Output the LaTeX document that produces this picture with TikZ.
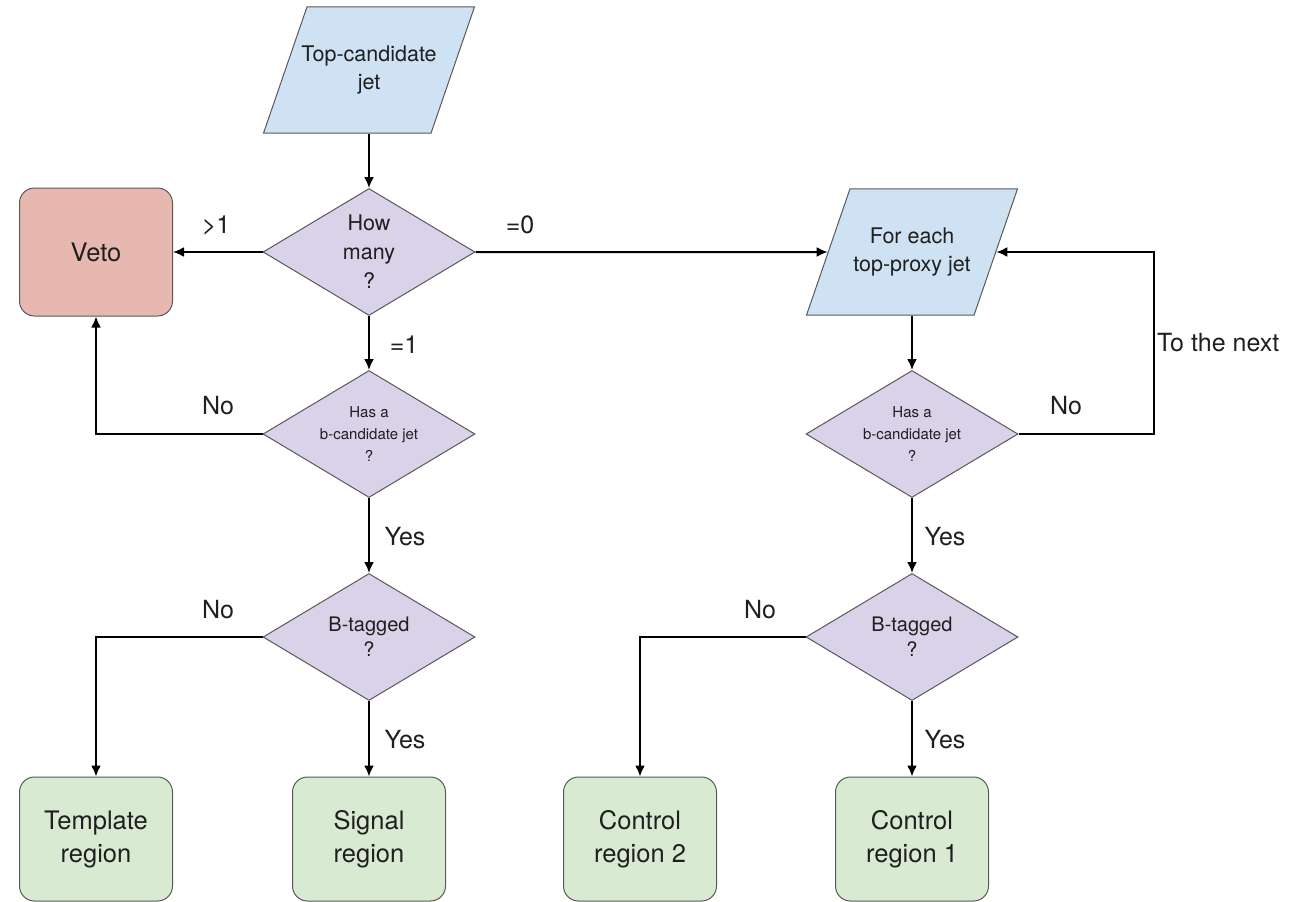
\documentclass[tikz,border=0pt]{standalone}
\usepackage{fontspec}
\setmainfont{TeX Gyre Heros}
\usetikzlibrary{shapes.geometric,arrows.meta}
\definecolor{jetblue}{HTML}{CFE2F3}
\definecolor{askpurple}{HTML}{D9D2E9}
\definecolor{vetored}{HTML}{E6B8AF}
\definecolor{regiongreen}{HTML}{D9EAD3}
\definecolor{outline}{HTML}{595959}
\definecolor{ink}{HTML}{1F1F1F}

\begin{document}
\begin{tikzpicture}[x=1pt,y=-1pt]
\tikzstyle{jet input} = [trapezium, trapezium left angle=71, trapezium right angle=109, trapezium stretches body, minimum width=211pt, inner xsep=-7pt, inner ysep=39pt, draw=outline, line width=1pt, fill=jetblue, text=ink, align=center, font=\fontsize{21.5}{28}\selectfont]
\tikzstyle{question} = [diamond, aspect=1.67, minimum width=212pt, minimum height=127pt, inner sep=0pt, draw=outline, line width=1pt, fill=askpurple, text=ink, align=center]
\tikzstyle{veto box} = [rectangle, rounded corners=15pt, minimum width=153pt, minimum height=128pt, draw=outline, line width=1pt, fill=vetored, text=ink, align=center, font=\fontsize{25.5}{33}\selectfont]
\tikzstyle{region box} = [veto box, minimum height=124pt, fill=regiongreen]
\tikzstyle{flow edge} = [draw, color=black, line width=2pt, -{Latex[length=11pt,width=10pt]}]
\tikzstyle{edge label} = [inner sep=0pt, text=ink, font=\fontsize{25}{30}\selectfont]
\useasboundingbox (0,0) rectangle (1309,902);
\node[jet input] (topjet) at (369,70) {Top-candidate\\jet};
\node[question, font=\fontsize{21.5}{29}\selectfont] (howmany) at (369,252) {How\\many\\?};
\node[veto box] (veto) at (96,252) {Veto};
\node[jet input] (eachjet) at (912,252) {For each\\top-proxy jet};
\node[question, font=\fontsize{15}{22}\selectfont] (hasbleft) at (369,434) {Has a\\b-candidate jet\\?};
\node[question, font=\fontsize{15}{22}\selectfont] (hasbright) at (912,434) {Has a\\b-candidate jet\\?};
\node[question, font=\fontsize{20}{25}\selectfont] (btagleft) at (369,637) {B-tagged\\?};
\node[question, font=\fontsize{20}{25}\selectfont] (btagright) at (912,637) {B-tagged\\?};
\node[region box] (template) at (96,839) {Template\\region};
\node[region box] (signal) at (369,839) {Signal\\region};
\node[region box] (controltwo) at (640,839) {Control\\region 2};
\node[region box] (controlone) at (912,839) {Control\\region 1};
\path[flow edge] (howmany.north |- topjet.south) -- (howmany.north);
\path[flow edge] (howmany.west) -- (veto.east);
\path[flow edge] (howmany.east) -- (eachjet.west);
\path[flow edge] (howmany.south) -- (hasbleft.north);
\path[flow edge] (hasbleft.west) -| (veto.south);
\path[flow edge] (hasbleft.south) -- (btagleft.north);
\path[flow edge] (btagleft.west) -| (template.north);
\path[flow edge] (btagleft.south) -- (signal.north);
\path[flow edge] (hasbright.north |- eachjet.south) -- (hasbright.north);
\path[flow edge] (hasbright.east) -- ++(135,0) |- (eachjet.east);
\path[flow edge] (hasbright.south) -- (btagright.north);
\path[flow edge] (btagright.west) -| (controltwo.north);
\path[flow edge] (btagright.south) -- (controlone.north);
\node[edge label] (more) at (216,225) {>1};
\node[edge label] (none) at (520,225) {=0};
\node[edge label] (one) at (404,345) {=1};
\node[edge label] (nobleft) at (218,406) {No};
\node[edge label] (yesbleft) at (405,537) {Yes};
\node[edge label] (notagleft) at (218,610) {No};
\node[edge label] (yestagleft) at (405,740) {Yes};
\node[edge label] (nobright) at (1066,406) {No};
\node[edge label, anchor=west] (nextjet) at (1157,343) {To the next};
\node[edge label] (yesbright) at (945,537) {Yes};
\node[edge label] (notagright) at (760,610) {No};
\node[edge label] (yestagright) at (945,740) {Yes};
\end{tikzpicture}
\end{document}
